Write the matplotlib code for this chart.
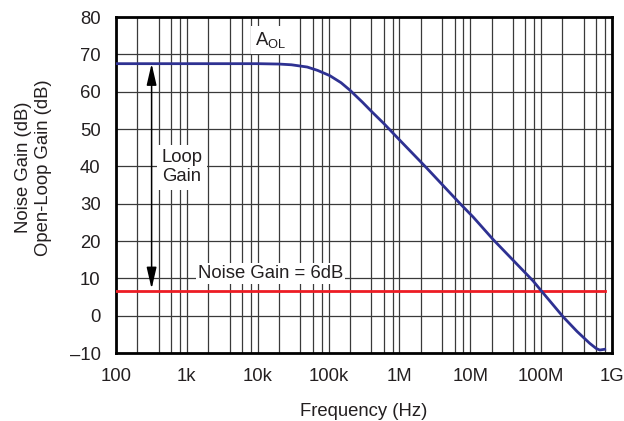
import matplotlib
matplotlib.use("Agg")
import matplotlib.pyplot as plt
from matplotlib.ticker import LogLocator, NullFormatter, FixedLocator, FixedFormatter

plt.rcParams['font.family'] = ['Liberation Sans', 'DejaVu Sans']

# open-loop gain
freq_hz = [100, 1e3, 1e4, 2e4, 3e4, 5e4, 7e4, 1.04e5, 1.5e5, 2e5, 3e5, 4.04e5, 6e5,
           1e6, 2.41e6, 7.1e6, 1.1e7, 2.1e7, 7.7e7, 1e8, 2.04e8, 3.2e8, 4.84e8,
           6e8, 6.71e8, 7.89e8]
aol_db = [67.5, 67.5, 67.5, 67.4, 67.2, 66.6, 65.7, 64.3, 62.4, 60.4, 57.2, 54.7, 51.5,
          47.1, 39.6, 30.1, 26.4, 20.4, 9.3, 6.7, -0.3, -4.2, -7.4,
          -8.8, -9.2, -9.0]

noise_gain_db = 6.5
noise_gain_f = [100, 7.89e8]

xtick_vals = [1e2, 1e3, 1e4, 1e5, 1e6, 1e7, 1e8, 1e9]
xtick_labels = ['100', '1k', '10k', '100k', '1M', '10M', '100M', '1G']
ytick_vals = list(range(-10, 81, 10))

text_col = '#231F20'
grid_col = '#3a3a3a'
fs = 13.3

fig = plt.figure(figsize=(6.24, 4.21), dpi=100)
ax = fig.add_axes([0.1859, 0.1615, 0.7949, 0.7981])

ax.set_xscale('log')
ax.set_xlim(1e2, 1e9)
ax.set_ylim(-10, 80)

ax.xaxis.set_major_locator(FixedLocator(xtick_vals))
ax.xaxis.set_major_formatter(FixedFormatter(xtick_labels))
ax.xaxis.set_minor_locator(LogLocator(base=10, subs=[2, 4, 6, 8], numticks=20))
ax.xaxis.set_minor_formatter(NullFormatter())
ax.set_yticks(ytick_vals)
ax.set_yticklabels([str(v).replace('-', '\u2013') for v in ytick_vals])

ax.grid(True, which='major', color=grid_col, lw=0.9)
ax.grid(True, which='minor', axis='x', color=grid_col, lw=0.9)
ax.set_axisbelow(True)

ax.tick_params(which='both', length=0, labelsize=fs, labelcolor=text_col)
ax.tick_params(axis='x', pad=11)
ax.tick_params(axis='y', pad=11)

for s in ax.spines.values():
    s.set_linewidth(2)
    s.set_color('black')

ax.plot(noise_gain_f, [noise_gain_db] * 2, color='#ED1C24', lw=2, zorder=3)
ax.plot(freq_hz, aol_db, color='#2E3192', lw=2, zorder=4)

# loop gain arrow
ax.annotate('', xy=(318, 67.5), xytext=(318, 7.2),
            arrowprops=dict(arrowstyle='<|-|>,head_length=1.3,head_width=0.3',
                            color='black', lw=1.1, shrinkA=0, shrinkB=0,
                            mutation_scale=10), zorder=5)

box = dict(facecolor='white', edgecolor='none', pad=3)
ax.text(15.3e3, 73.8, r'A$_\mathregular{OL}$', ha='center', va='center',
        fontsize=fs, color=text_col, bbox=box, zorder=6)
ax.text(850, 39.8, 'Loop\nGain', ha='center', va='center', fontsize=fs,
        color=text_col, bbox=box, linespacing=1.2, zorder=6)
ax.text(15.2e3, 11.2, 'Noise Gain = 6dB', ha='center', va='center', fontsize=fs,
        color=text_col, bbox=dict(facecolor='white', edgecolor='none', pad=1.5), zorder=6)

ax.set_xlabel('Frequency (Hz)', fontsize=fs, color=text_col, labelpad=13)
ax.set_ylabel('Noise Gain (dB)\nOpen-Loop Gain (dB)', fontsize=fs, color=text_col)
ax.yaxis.set_label_coords(-0.129, 0.553)

fig.savefig('out.png', dpi=100)
